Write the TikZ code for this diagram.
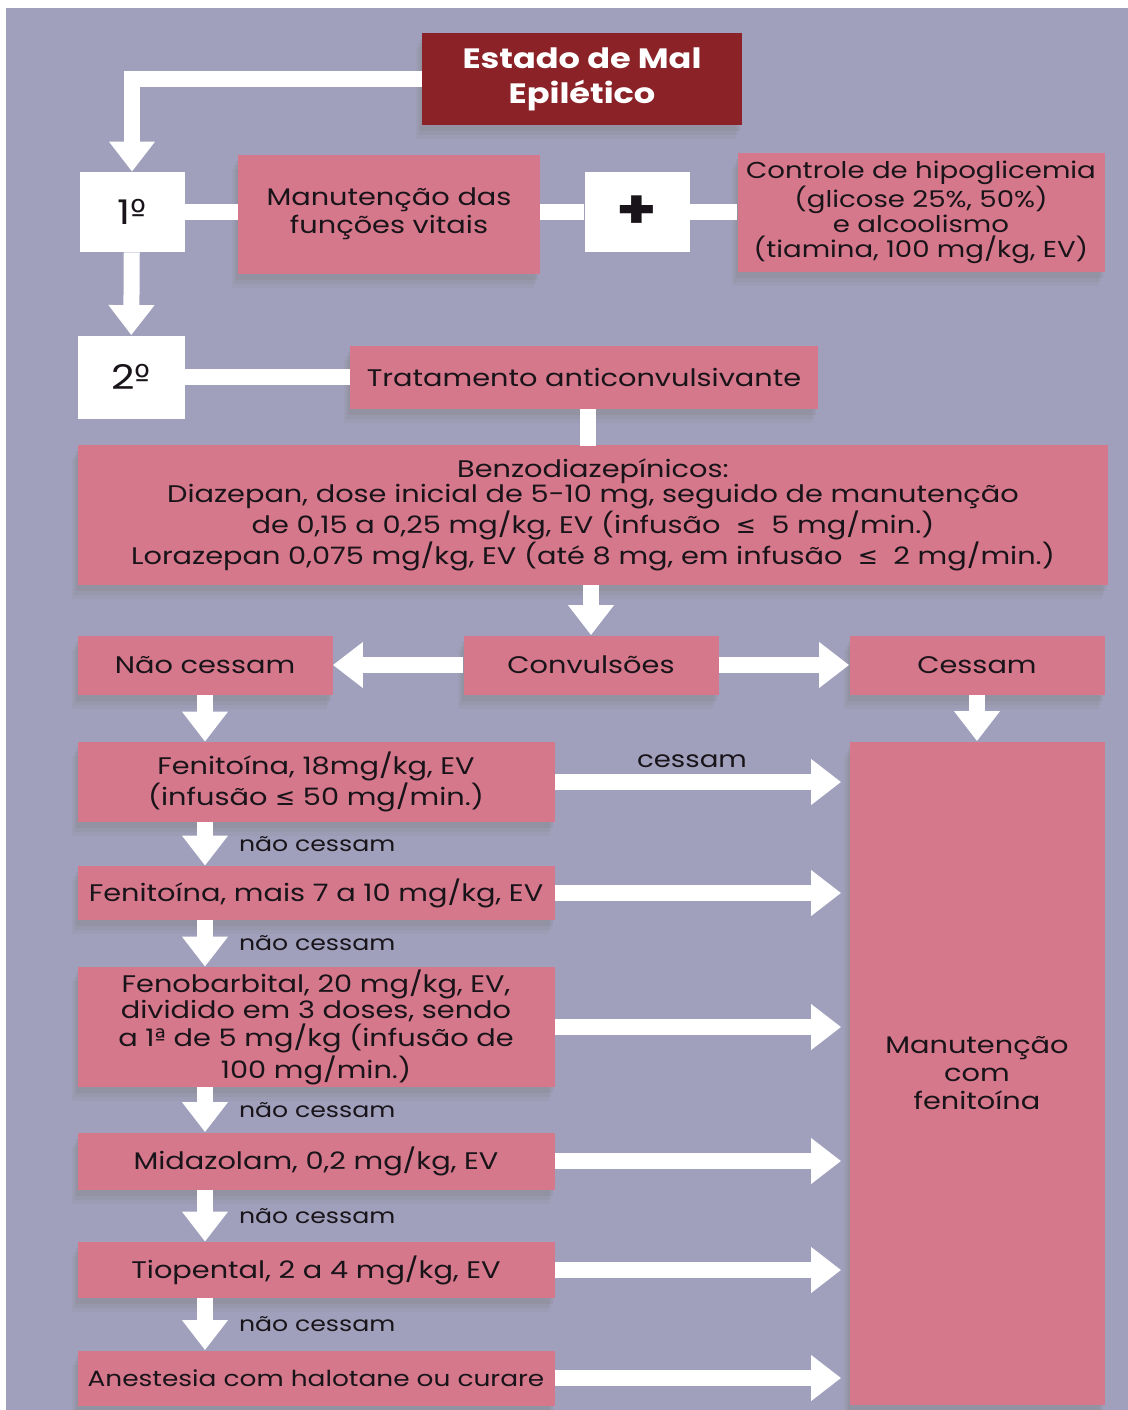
\documentclass[tikz,border=0pt]{standalone}
\usepackage{fontspec}
\setmainfont{Poppins}[FakeStretch=1.2]
\newfontfamily\symfont{DejaVu Sans}
\usetikzlibrary{arrows.meta,shadows}
\definecolor{bgray}{RGB}{160,160,188}
\definecolor{rosebox}{RGB}{214,120,140}
\definecolor{wine}{RGB}{138,34,40}
\definecolor{ink}{RGB}{25,20,25}
\newcommand{\lesym}{{\symfont ≤}}

\begin{document}
\begin{tikzpicture}[x=0.5pt,y=-0.5pt,
    box/.style={rectangle,fill=rosebox,text=ink,inner sep=0pt,align=center,
      font=\fontsize{12}{13}\selectfont,
      drop shadow={shadow xshift=-1pt,shadow yshift=-3pt,opacity=0.2},
      drop shadow={shadow xshift=-2pt,shadow yshift=-5pt,opacity=0.15},
      drop shadow={shadow xshift=-3pt,shadow yshift=-7pt,opacity=0.1}},
    stepno/.style={rectangle,fill=white,text=ink,inner sep=0pt,
      minimum width=52.5pt,minimum height=40pt,font=\fontsize{17}{20}\selectfont},
    headbox/.style={box,fill=wine,text=white,font=\bfseries\fontsize{14}{17.5}\selectfont},
    flow/.style={white,line width=8pt},
    arr/.style={flow,-{Triangle[width=22pt,length=15pt]}},
    note/.style={text=ink,inner sep=1pt,font=\fontsize{10.5}{12}\selectfont}]
  \useasboundingbox (0,0) rectangle (1128,1410);
  \fill[white] (0,0) rectangle (1128,1410);
  \fill[bgray] (6,8) rectangle (1128,1410);

  % top part
  \node[headbox,minimum width=160pt,minimum height=46pt] (title) at (582,79) {Estado de Mal\\Epilético};
  \node[stepno] (first) at (132,212) {1{\symfont º}};
  \node[box,minimum width=151pt,minimum height=59.5pt,font=\fontsize{12}{14}\selectfont] (vital) at (389,214) {Manutenção das\\funções vitais};
  \node[stepno,font=\bfseries\fontsize{27}{27}\selectfont] (plus) at (637,212) {+};
  \node[box,minimum width=183.5pt,minimum height=59.5pt,font=\fontsize{11.5}{12.3}\selectfont] (gluc) at (921,212)
    {Controle de hipoglicemia\\(glicose 25\%, 50\%)\\e alcoolismo\\(tiamina, 100 mg/kg, EV)};
  \node[stepno,minimum width=53.5pt,minimum height=41.5pt] (second) at (131,377) {2{\symfont º}};
  \node[box,minimum width=234pt,minimum height=31.5pt] (treat) at (584,377) {Tratamento anticonvulsivante};
  \node[box,minimum width=515pt,minimum height=70pt,font=\fontsize{12}{12.6}\selectfont] (benzo) at (593,515)
    {Benzodiazepínicos:\\Diazepan, dose inicial de 5-10 mg, seguido de manutenção\\de 0,15 a 0,25 mg/kg, EV (infusão~~\lesym~~5 mg/min.)\\Lorazepan 0,075 mg/kg, EV (até 8 mg, em infusão~~\lesym~~2 mg/min.)};

  % convulsions
  \node[box,minimum width=127.5pt,minimum height=29.5pt] (nocease) at (205,665) {Não cessam};
  \node[box,minimum width=127.5pt,minimum height=29.5pt] (conv) at (591,665) {Convulsões};
  \node[box,minimum width=127.5pt,minimum height=29.5pt] (cease) at (977,665) {Cessam};

  % drug steps
  \node[box,minimum width=238.5pt,minimum height=40pt] (fen1) at (316,782) {Fenitoína, 18mg/kg, EV\\(infusão \lesym{} 50 mg/min.)};
  \node[box,minimum width=238.5pt,minimum height=27pt] (fen2) at (316,893) {Fenitoína, mais 7 a 10 mg/kg, EV};
  \node[box,minimum width=238.5pt,minimum height=60pt,font=\fontsize{12}{12}\selectfont] (fenob) at (316,1027)
    {Fenobarbital, 20 mg/kg, EV,\\dividido em 3 doses, sendo\\a 1{\symfont ª} de 5 mg/kg (infusão de\\100 mg/min.)};
  \node[box,minimum width=238.5pt,minimum height=28.5pt] (mida) at (316,1161) {Midazolam, 0,2 mg/kg, EV};
  \node[box,minimum width=238.5pt,minimum height=28pt] (tio) at (316,1270) {Tiopental, 2 a 4 mg/kg, EV};
  \node[box,minimum width=238.5pt,minimum height=27.5pt,font=\fontsize{11}{13}\selectfont] (anest) at (316,1378) {Anestesia com halotane ou curare};
  \node[box,minimum width=127.5pt,minimum height=331.5pt,font=\fontsize{12}{14}\selectfont] (maint) at (977,1073) {Manutenção\\com\\fenitoína};

  \begin{scope}[flow]
    \draw[arr] (title.west) -| (first.north);
    \draw (first) -- (first -| vital.west);
    \draw (vital.east |- first) -- (plus);
    \draw (plus) -- (gluc);
    \draw[arr] (first) -- (second);
    \draw (second) -- (treat);
    \draw (treat.south -| benzo.north) ++(-5,0) -- ++(0,37);
    \draw[arr] (conv.north |- benzo.south) -- (conv.north);
    \draw[arr] (conv) -- (nocease);
    \draw[arr] (conv) -- (cease);
    \draw[arr] (nocease.south) -- (nocease.south |- fen1.north);
    \draw[arr] (cease.south) -- (maint.north);
    \draw[arr] (fen1.south -| nocease.south) -- (fen2.north -| nocease.south) node[note,midway,right=12pt] {não cessam};
    \draw[arr] (fen2.south -| nocease.south) -- (fenob.north -| nocease.south) node[note,midway,right=12pt] {não cessam};
    \draw[arr] (fenob.south -| nocease.south) -- (mida.north -| nocease.south) node[note,midway,right=12pt] {não cessam};
    \draw[arr] (mida.south -| nocease.south) -- (tio.north -| nocease.south) node[note,midway,right=12pt] {não cessam};
    \draw[arr] (tio.south -| nocease.south) -- (anest.north -| nocease.south) node[note,midway,right=12pt] {não cessam};
    \draw[arr,shorten >=4pt] (fen1.east) -- (fen1.east -| maint.west) node[note,midway,above=2pt,xshift=-5pt,font=\fontsize{11.5}{13}\selectfont] {cessam};
    \draw[arr,shorten >=4pt] (fen2.east) -- (fen2.east -| maint.west);
    \draw[arr,shorten >=4pt] (fenob.east) -- (fenob.east -| maint.west);
    \draw[arr,shorten >=4pt] (mida.east) -- (mida.east -| maint.west);
    \draw[arr,shorten >=4pt] (tio.east) -- (tio.east -| maint.west);
    \draw[arr,shorten >=4pt] (anest.east) -- (anest.east -| maint.west);
  \end{scope}
\end{tikzpicture}
\end{document}
